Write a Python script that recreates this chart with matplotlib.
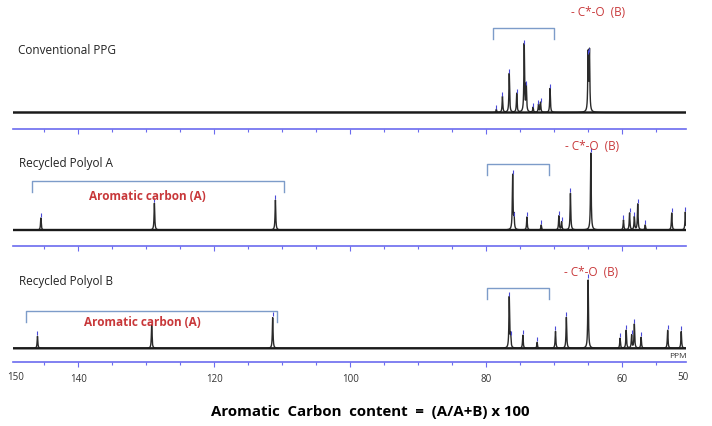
import numpy as np
import matplotlib
matplotlib.use("Agg")
import matplotlib.pyplot as plt
from matplotlib.ticker import MultipleLocator

plt.rcParams['font.family'] = ['Open Sans', 'DejaVu Sans']

# ---------------- data (ppm, relative intensity) ----------------
sample_names = ["Conventional PPG", "Recycled Polyol A", "Recycled Polyol B"]

ppg_ppm = [78.5, 77.6, 76.6, 75.5, 74.4, 74.1, 73.1, 72.3, 72.0, 70.6, 65.0, 64.8]
ppg_int = [3, 16, 39, 19, 68, 27, 5, 8, 10, 24, 58, 60]

polA_ppm = [145.5, 128.8, 111.0, 76.1, 75.9, 74.0, 71.9, 69.3, 68.9, 67.6, 64.6,
            59.8, 58.9, 58.2, 57.7, 56.6, 52.7, 50.7]
polA_int = [12, 27, 30, 55, 13, 13, 5, 14, 8, 37, 77, 10, 17, 13, 26, 5, 17, 18]

polB_ppm = [146.0, 129.2, 111.4, 76.6, 76.4, 74.6, 72.5, 69.8, 68.2, 65.0,
            60.3, 59.4, 58.6, 58.2, 57.2, 53.3, 51.3]
polB_int = [12, 23, 31, 51, 12, 13, 6, 17, 31, 69, 10, 18, 13, 24, 11, 18, 17]

major_ticks = [140, 120, 100, 80, 60]
end_labels = ["150", "50"]
aromatic_range = [(146.8, 109.7), (147.7, 110.7)]   # panels A, B
co_range = [(79.0, 70.0), (79.9, 70.8), (79.9, 70.7)]

# ---------------- figure ----------------
W, H = 712, 426
fig = plt.figure(figsize=(W / 100, H / 100), dpi=100)
fig.patch.set_facecolor("white")


def rect(l, t, r, b):
    return [l / W, 1 - b / H, (r - l) / W, (b - t) / H]


XMAX, XMIN = 149.6, 50.6
BLUE = "#6b6bef"
BRACKET = "#7d9cc9"
RED = "#c8383a"

panels = [
    dict(ppm=ppg_ppm, inten=ppg_int, box=(13, 0, 686, 129), ylim=(-16.5, 112.5)),
    dict(ppm=polA_ppm, inten=polA_int, box=(13, 131, 686, 246), ylim=(-16, 99)),
    dict(ppm=polB_ppm, inten=polB_int, box=(13, 248, 686, 362), ylim=(-13.7, 100.3)),
]

x = np.linspace(XMAX, XMIN, 8000)
gamma = 0.06
axes = []
for i, p in enumerate(panels):
    ax = fig.add_axes(rect(*p["box"]))
    axes.append(ax)
    y = np.zeros_like(x)
    for c, h in zip(p["ppm"], p["inten"]):
        y += h * gamma ** 2 / ((x - c) ** 2 + gamma ** 2)
    ax.plot(x, y, color="#2a2a2a", lw=1.0, solid_joinstyle="round")
    ax.plot(x, np.zeros_like(x), color="#1a1a1a", lw=1.7)
    # peak-pick markers
    ax.plot(p["ppm"], np.array(p["inten"]) + 3, linestyle="none", marker="|",
            markersize=3, color="#4a4ad8", markeredgewidth=0.8)
    ax.set_xlim(XMAX, XMIN)
    ax.set_ylim(*p["ylim"])
    for s in ["top", "left", "right"]:
        ax.spines[s].set_visible(False)
    ax.spines["bottom"].set_color(BLUE)
    ax.spines["bottom"].set_linewidth(1.2)
    ax.set_yticks([])
    ax.set_xticks(major_ticks)
    ax.xaxis.set_minor_locator(MultipleLocator(5))
    ax.tick_params(axis="x", which="major", direction="out", length=3.5, width=0.8,
                   color=BLUE, labelsize=7, labelcolor="#333333", pad=5)
    ax.tick_params(axis="x", which="minor", direction="out", length=2, width=0.8, color=BLUE)
    ax.patch.set_alpha(0)
    if i < 2:
        ax.tick_params(axis="x", labelbottom=False)

# sample name labels
fig.text(18 / W, 1 - 50 / H, sample_names[0], fontsize=8.5, color="#222222", va="center")
fig.text(19 / W, 1 - 163 / H, sample_names[1], fontsize=8.5, color="#222222", va="center")
fig.text(19 / W, 1 - 282 / H, sample_names[2], fontsize=8.5, color="#222222", va="center")


def bracket(ax, x0, x1, ytop, ybot):
    ax.plot([x0, x0, x1, x1], [ybot, ytop, ytop, ybot], color=BRACKET, lw=1.0, clip_on=False)


# C*-O brackets and labels
bracket(axes[0], co_range[0][0], co_range[0][1], 84.5, 73.5)
bracket(axes[1], co_range[1][0], co_range[1][1], 66, 55)
bracket(axes[2], co_range[2][0], co_range[2][1], 60, 49.3)
axes[0].text(63.5, 100.5, "- C*-O  (B)", color=RED, fontsize=8.5, ha="center", va="center")
axes[1].text(64.4, 83, "- C*-O  (B)", color=RED, fontsize=8.5, ha="center", va="center")
axes[2].text(64.5, 75.3, "- C*-O  (B)", color=RED, fontsize=8.5, ha="center", va="center")

# aromatic brackets and labels
bracket(axes[1], aromatic_range[0][0], aromatic_range[0][1], 49.3, 38.3)
bracket(axes[2], aromatic_range[1][0], aromatic_range[1][1], 37.6, 26.6)
axes[1].text(129.8, 33.3, "Aromatic carbon (A)", color=RED, fontsize=8.5,
             fontweight="bold", ha="center", va="center")
axes[2].text(130.6, 26.3, "Aromatic carbon (A)", color=RED, fontsize=8.5,
             fontweight="bold", ha="center", va="center")

# end tick labels and PPM
ax3 = axes[2]
ax3.text(0.004, -0.14, end_labels[0], transform=ax3.transAxes, fontsize=7,
         color="#333333", ha="center", va="center")
ax3.text(0.996, -0.14, end_labels[1], transform=ax3.transAxes, fontsize=7,
         color="#333333", ha="center", va="center")
fig.text(678 / W, 1 - 357 / H, "PPM", fontsize=6, color="#333333", ha="center", va="center")

fig.text(370 / W, 1 - 412 / H, "Aromatic  Carbon  content  =  (A/A+B) x 100",
         fontsize=10.8, fontweight="bold", ha="center", va="center", color="black")

fig.savefig("out.png", dpi=100, facecolor="white")
